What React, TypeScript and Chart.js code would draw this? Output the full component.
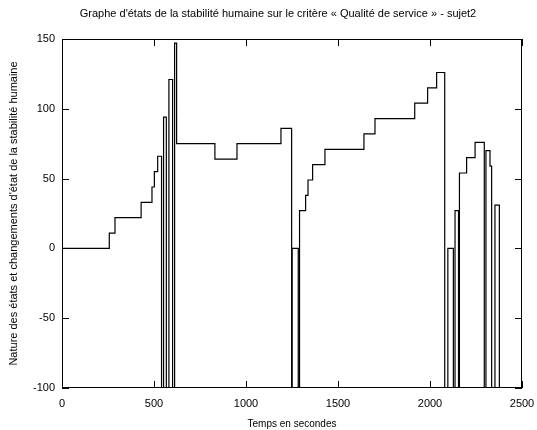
import React, { useEffect, useRef } from "react";
import { Chart, registerables } from "chart.js";

Chart.register(...registerables);

const TITLE = "Graphe d'états de la stabilité humaine sur le critère « Qualité de service » - sujet2";
const X_LABEL = "Temps en secondes";
const Y_LABEL = "Nature des états et changements d'état de la stabilité humaine";

const X_TICKS = [0, 500, 1000, 1500, 2000, 2500];
const Y_TICKS = [-100, -50, 0, 50, 100, 150];

// time (s) at which the state changes, and the new state value
const TIMES = [
  0, 257, 288, 430, 489, 502, 520, 541, 552, 567, 581, 601, 612, 623, 831, 951,
  1190, 1248, 1251, 1284, 1291, 1324, 1337, 1362, 1429, 1641, 1701, 1917, 1987,
  2036, 2080, 2097, 2127, 2136, 2155, 2160, 2199, 2245, 2295, 2304, 2326, 2335,
  2353, 2377, 2500,
];
const STATES = [
  0, 11, 22, 33, 44, 55, 66, -100, 94, -100, 121, -100, 147, 75, 64, 75,
  86, -100, 0, -100, 27, 38, 49, 60, 71, 82, 93, 104, 115,
  126, -100, 0, -100, 27, -100, 54, 65, 76, -100, 70, 59, -100,
  31, -100, -100,
];

const FONT = '"Liberation Sans", Arial, sans-serif';

const framePlugin = {
  id: "frame",
  afterDatasetsDraw(chart: any) {
    const { ctx, chartArea: a, scales } = chart;
    const L = 7;
    ctx.save();
    ctx.strokeStyle = "#000";
    ctx.lineWidth = 1;
    ctx.strokeRect(a.left + 0.5, a.top + 0.5, a.right - a.left - 1, a.bottom - a.top - 1);
    ctx.beginPath();
    for (const t of scales.x.ticks) {
      const px = Math.round(scales.x.getPixelForValue(t.value)) + 0.5;
      ctx.moveTo(px, a.bottom);
      ctx.lineTo(px, a.bottom - L);
      ctx.moveTo(px, a.top);
      ctx.lineTo(px, a.top + L);
    }
    for (const t of scales.y.ticks) {
      const py = Math.round(scales.y.getPixelForValue(t.value)) + 0.5;
      ctx.moveTo(a.left, py);
      ctx.lineTo(a.left + L, py);
      ctx.moveTo(a.right, py);
      ctx.lineTo(a.right - L, py);
    }
    ctx.stroke();
    ctx.fillStyle = "#000";
    ctx.font = `11px ${FONT}`;
    ctx.textAlign = "center";
    ctx.textBaseline = "middle";
    ctx.fillText(TITLE, 278, 14);
    ctx.restore();
  },
};

export default function App() {
  const ref = useRef<HTMLCanvasElement | null>(null);

  useEffect(() => {
    document.body.style.margin = "0";
    const canvas = ref.current;
    if (!canvas) return;
    const points = TIMES.map((t, i) => ({ x: t, y: STATES[i] }));
    const chart = new Chart(canvas, {
      type: "line",
      data: {
        datasets: [
          {
            data: points,
            stepped: "before",
            borderColor: "#000",
            borderWidth: 1.2,
            pointRadius: 0,
            fill: false,
          },
        ],
      },
      options: {
        animation: false,
        responsive: false,
        devicePixelRatio: 1,
        layout: { padding: { left: 0, right: 15, top: 39, bottom: 0 } },
        plugins: {
          legend: { display: false },
          title: { display: false },
          tooltip: { enabled: false },
        },
        scales: {
          x: {
            type: "linear",
            min: 0,
            max: 2500,
            afterBuildTicks: (s: any) => {
              s.ticks = X_TICKS.map((v) => ({ value: v }));
            },
            afterFit: (s: any) => {
              s.height = 42;
              s.paddingLeft = 0;
              s.paddingRight = 0;
            },
            grid: { display: false, drawTicks: false },
            border: { display: false },
            ticks: {
              color: "#000",
              padding: 9,
              maxRotation: 0,
              font: { family: FONT, size: 11 },
              callback: (v: any) => String(v),
            },
            title: {
              display: true,
              text: X_LABEL,
              color: "#000",
              font: { family: FONT, size: 10 },
              padding: { top: 3, bottom: 0 },
            },
          },
          y: {
            type: "linear",
            min: -100,
            max: 150,
            afterBuildTicks: (s: any) => {
              s.ticks = Y_TICKS.map((v) => ({ value: v }));
            },
            afterFit: (s: any) => {
              s.width = 62;
            },
            grid: { display: false, drawTicks: false },
            border: { display: false },
            ticks: {
              color: "#000",
              padding: 7,
              font: { family: FONT, size: 11 },
              callback: (v: any) => String(v),
            },
            title: {
              display: true,
              text: Y_LABEL,
              color: "#000",
              font: { family: FONT, size: 11 },
              padding: { top: 7, bottom: 0 },
            },
          },
        },
      },
      plugins: [framePlugin],
    });
    return () => chart.destroy();
  }, []);

  return (
    <div style={{ width: 537, height: 430 }}>
      <canvas ref={ref} width={537} height={430} style={{ display: "block" }} />
    </div>
  );
}
